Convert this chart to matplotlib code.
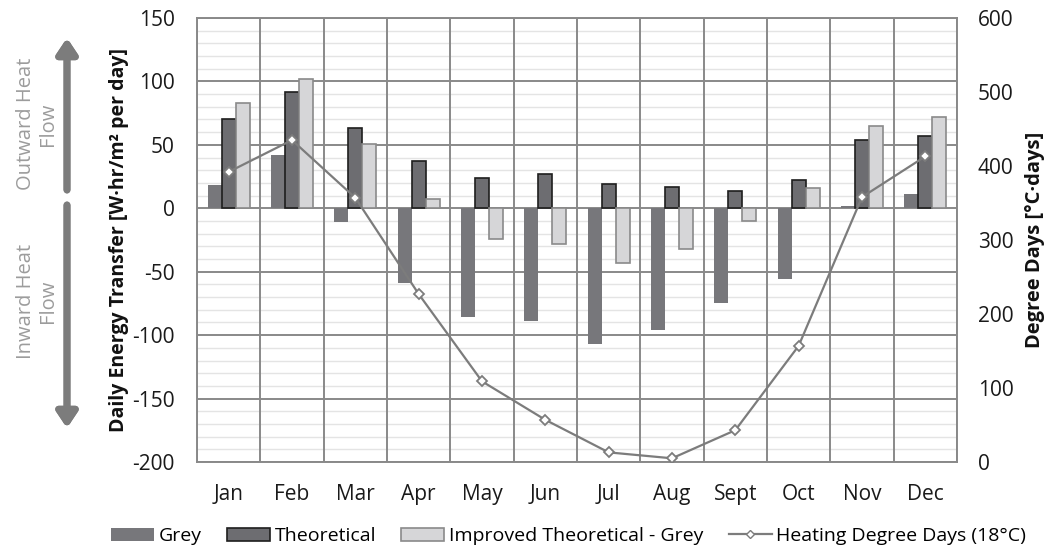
import numpy as np
import matplotlib
matplotlib.use('Agg')
import matplotlib.pyplot as plt
from matplotlib.patches import Patch
from matplotlib.lines import Line2D

months = ['Jan', 'Feb', 'Mar', 'Apr', 'May', 'Jun', 'Jul', 'Aug', 'Sept', 'Oct', 'Nov', 'Dec']
grey = [18, 42, -11, -59, -86, -89, -107, -96, -75, -56, 2, 11]
theoretical = [70, 92, 63, 37, 24, 27, 19, 17, 14, 22, 54, 57]
improved = [83, 102, 51, 7, -24, -28, -43, -32, -10, 16, 65, 72]
degree_days = [392, 435, 357, 227, 109, 57, 13, 5, 43, 157, 358, 413]

c_grey = '#77777b'
c_theo = '#6d6d71'
c_impr = '#d6d6d8'
c_line = '#7c7c7c'
c_major = '#898989'
c_minor = '#e4e4e4'

plt.rcParams['font.family'] = ['Open Sans', 'DejaVu Sans']
plt.rcParams['axes.unicode_minus'] = False

fig = plt.figure(figsize=(10.63, 5.46), dpi=100)
ax = fig.add_axes([197/1063, 1 - 462/546, 760/1063, 444/546])

x = np.arange(len(months))
w = 0.222
ax.bar(x - w, grey, w, color=c_grey, edgecolor='none', zorder=3)
ax.bar(x, theoretical, w, color=c_theo, edgecolor='#1e1e1e', linewidth=1.2, zorder=3)
ax.bar(x + w, improved, w, color=c_impr, edgecolor='#8a8a8a', linewidth=1.2, zorder=3)

ax.set_xlim(-0.5, 11.5)
ax.set_ylim(-200, 150)
ax.set_yticks(np.arange(-200, 151, 50))
ax.set_yticks(np.arange(-200, 151, 10), minor=True)
ax.grid(axis='y', which='minor', color=c_minor, linewidth=1.0, zorder=0)
ax.grid(axis='y', which='major', color=c_major, linewidth=1.4, zorder=1)
for b in np.arange(-0.5, 12, 1):
    ax.axvline(b, color=c_major, linewidth=1.4, zorder=1)
ax.set_axisbelow(True)
for s in ax.spines.values():
    s.set_color(c_major)
    s.set_linewidth(1.4)

ax.set_xticks(x)
ax.set_xticklabels(months)
ax.tick_params(axis='both', which='both', length=0, labelsize=15, colors='#1a1a1a')
ax.tick_params(axis='y', pad=16)
ax.tick_params(axis='x', pad=16)
ax.set_ylabel('Daily Energy Transfer [W·hr/m² per day]', fontsize=14,
              fontweight='bold', labelpad=2, color='#111111')

ax2 = ax.twinx()
ax2.plot(x, degree_days, color=c_line, linewidth=1.6, marker='D', markersize=5,
         markerfacecolor='white', markeredgecolor=c_line, markeredgewidth=1.3, zorder=5)
ax2.set_ylim(0, 600)
ax2.set_yticks(np.arange(0, 601, 100))
ax2.tick_params(axis='y', length=0, labelsize=15, pad=15, colors='#1a1a1a')
for s in ax2.spines.values():
    s.set_visible(False)
ax2.set_ylabel('Degree Days [°C·days]', fontsize=14.5, fontweight='bold',
               labelpad=8, color='#111111')

# heat flow direction arrows on the left
arrow_kw = dict(arrowstyle='-|>,head_width=0.6,head_length=0.9', color=c_line,
                linewidth=5, shrinkA=0, shrinkB=0)
fig.add_artist(plt.annotate('', xy=(67/1063, 1 - 38/546), xytext=(67/1063, 1 - 190/546),
                            xycoords='figure fraction', arrowprops=arrow_kw))
fig.add_artist(plt.annotate('', xy=(67/1063, 1 - 428/546), xytext=(67/1063, 1 - 205/546),
                            xycoords='figure fraction', arrowprops=arrow_kw))
fig.text(37/1063, 1 - 124/546, 'Outward Heat\nFlow', rotation=90, ha='center', va='center',
         fontsize=14.5, color='#9c9c9c', linespacing=1.1)
fig.text(37/1063, 1 - 301/546, 'Inward Heat\nFlow', rotation=90, ha='center', va='center',
         fontsize=14.5, color='#9c9c9c', linespacing=1.1)

handles = [
    Patch(facecolor=c_grey, edgecolor='none'),
    Patch(facecolor=c_theo, edgecolor='#1e1e1e', linewidth=1.2),
    Patch(facecolor=c_impr, edgecolor='#8a8a8a', linewidth=1.2),
    Line2D([0], [0], color=c_line, linewidth=1.6, marker='D', markersize=4.5,
           markerfacecolor='white', markeredgecolor=c_line),
]
labels = ['Grey', 'Theoretical', 'Improved Theoretical - Grey', 'Heating Degree Days (18°C)']
fig.legend(handles, labels, loc='center', bbox_to_anchor=(0.535, 0.018), ncol=4,
           frameon=False, handlelength=2.2, handleheight=0.7,
           handletextpad=0.25, columnspacing=1.3,
           prop={'family': ['Open Sans', 'DejaVu Sans'], 'size': 14})

fig.savefig('out.png', dpi=100)
